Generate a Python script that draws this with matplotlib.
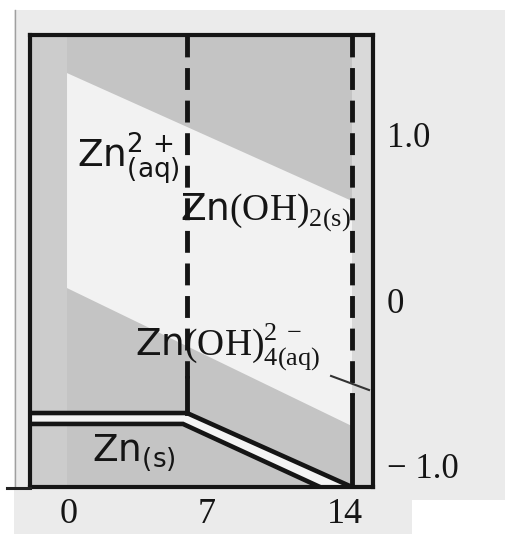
import matplotlib.pyplot as plt
from matplotlib.patches import Rectangle
from matplotlib.lines import Line2D

plt.rcParams['mathtext.fontset'] = 'custom'
plt.rcParams['mathtext.rm'] = 'Liberation Serif'
plt.rcParams['mathtext.sf'] = 'DejaVu Sans'

# plot window: pH across, potential (V) up the side
ph_min, ph_max = -1.93, 15.40
e_min, e_max = -1.128, 1.603

ph_ticks = [0, 7, 14]
ph_ticklabels = ['0', '7', '14']
e_ticks = [1.0, 0.0, -1.0]
e_ticklabels = ['1.0', '0', '\u2212 1.0']

# vertical boundaries Zn2+ | Zn(OH)2 | Zn(OH)4 2-
ph_hydroxide = 6.0
ph_zincate = 14.34
e_hydroxide_solid = -0.47   # below this the line is solid
e_zincate_solid = -0.57

# water stability window
water_ph = [-0.06, 14.34, 14.34, -0.06]
water_e = [1.373, 0.600, -0.760, 0.074]

# Zn(s) boundary, double line
zn_upper_ph = [ph_min, 6.0, 14.34]
zn_upper_e = [-0.681, -0.681, -1.128]
zn_lower_ph = [ph_min, 5.80, 12.72]
zn_lower_e = [-0.747, -0.747, -1.128]

# leader line for the zincate label
leader_ph = [13.28, 15.2]
leader_e = [-0.457, -0.542]

W, H = 505, 534
fig = plt.figure(figsize=(W / 100, H / 100), dpi=100)
fig.patch.set_facecolor('#ebebeb')

# white margins of the scan
for x0, y0, w, h in [(0, 0, 14, H), (0, 0, W, 10), (412, 500, W - 412, H - 500)]:
    fig.add_artist(Rectangle((x0 / W, 1 - (y0 + h) / H), w / W, h / H,
                             transform=fig.transFigure, color='white', lw=0))
fig.add_artist(Line2D([15 / W, 15 / W], [1 - 10 / H, 1 - 488 / H],
                      transform=fig.transFigure, color='#a0a0a0', lw=1))
fig.add_artist(Line2D([7 / W, 30 / W], [1 - 488 / H, 1 - 488 / H],
                      transform=fig.transFigure, color='#222222', lw=2.2))

ax = fig.add_axes([30 / W, (H - 487) / H, 343 / W, 452 / H])
ax.set_xlim(ph_min, ph_max)
ax.set_ylim(e_min, e_max)
ax.set_facecolor('#c4c4c4')

ink = '#151515'

# shaded areas
ax.axvspan(ph_min, water_ph[0], color='#cccccc', lw=0)
ax.axvspan(ph_zincate, ph_max, color='#d9d9d9', lw=0)
ax.fill(water_ph, water_e, color='#f2f2f2', lw=0)
ax.fill(zn_upper_ph + zn_lower_ph[::-1], zn_upper_e + zn_lower_e[::-1],
        color='#f4f4f4', lw=0)

# boundaries
dash = (0, (4.5, 2.2))
ax.plot([ph_hydroxide] * 2, [e_max, e_hydroxide_solid], color=ink, lw=3.5, ls=dash)
ax.plot([ph_hydroxide] * 2, [e_hydroxide_solid, zn_upper_e[1]], color=ink, lw=3.5)
ax.plot([ph_zincate] * 2, [e_max, e_zincate_solid], color=ink, lw=3.5, ls=dash)
ax.plot([ph_zincate] * 2, [e_zincate_solid, e_min], color=ink, lw=3.5)
ax.plot(zn_upper_ph, zn_upper_e, color=ink, lw=3.3, solid_joinstyle='miter')
ax.plot(zn_lower_ph, zn_lower_e, color=ink, lw=3.3, solid_joinstyle='miter')
ax.plot(leader_ph, leader_e, color='#333333', lw=1.5, clip_on=False)

# species labels
fs = 27
ax.text(0.44, 0.80, r'$\mathsf{Zn}_{\mathsf{(aq)}}^{\mathsf{2\,+}}$',
        fontsize=fs, color=ink, ha='left', va='baseline')
ax.text(5.65, 0.491, r'$\mathsf{Zn}\mathrm{(OH)}_{\mathrm{2(s)}}$',
        fontsize=fs, color=ink, ha='left', va='baseline')
ax.text(3.38, -0.331, r'$\mathsf{Zn}\mathrm{(OH)}_{\mathrm{4(aq)}}^{\mathrm{2\,-}}$',
        fontsize=fs, color=ink, ha='left', va='baseline')
ax.text(1.2, -0.977, r'$\mathsf{Zn}_{\mathsf{(s)}}$',
        fontsize=fs, color=ink, ha='left', va='baseline')

# axes
for s in ax.spines.values():
    s.set_linewidth(3)
    s.set_color(ink)
ax.set_xticks(ph_ticks)
ax.set_xticklabels(ph_ticklabels, fontfamily='Liberation Serif', fontsize=26, color=ink)
ax.yaxis.tick_right()
ax.set_yticks(e_ticks)
ax.set_yticklabels(e_ticklabels, fontfamily='Liberation Serif', fontsize=25, color=ink)
ax.tick_params(axis='x', length=0, pad=8)
ax.tick_params(axis='y', length=0, pad=10)

fig.savefig('out.png', dpi=100, facecolor=fig.get_facecolor())
